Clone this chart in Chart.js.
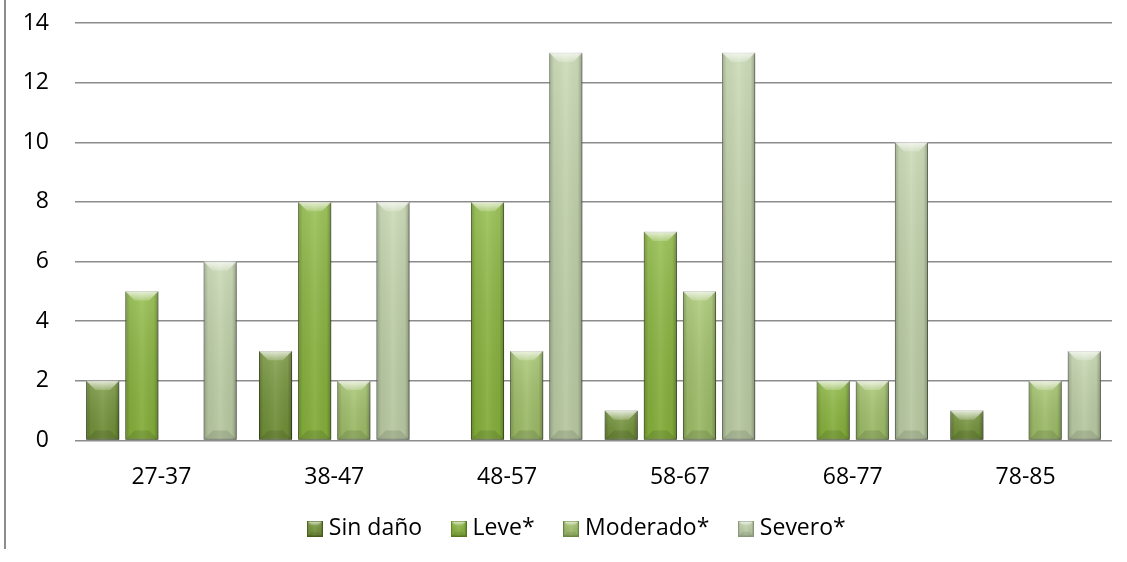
<!DOCTYPE html>
<html>
<head>
<meta charset="utf-8">
<script src="https://cdn.jsdelivr.net/npm/chart.js@4.4.1/dist/chart.umd.min.js"></script>
<style>
  html, body { margin: 0; padding: 0; background: #ffffff; }
  #wrap { width: 1127px; height: 562px; }
</style>
</head>
<body>
<div id="wrap"><canvas id="c" width="1127" height="562"></canvas></div>
<script>
// Age groups and number of cases per damage level
const categories = ['27-37', '38-47', '48-57', '58-67', '68-77', '78-85'];
const sinDano  = [2, 3, 0, 1, 0, 1];
const leve     = [5, 8, 8, 7, 2, 0];
const moderado = [0, 2, 3, 5, 2, 2];
const severo   = [6, 8, 13, 13, 10, 3];
const seriesNames = ['Sin daño', 'Leve*', 'Moderado*', 'Severo*'];
const yMin = 0, yMax = 14, yStep = 2;

// Palette: base fill and edge colour for each damage level
const fills   = ['#76973a', '#8cb93e', '#a5c66c', '#c4d6ac'];
const edges   = ['#465c1c', '#58781f', '#6a8740', '#87977a'];

const FONT = '"Open Sans", "Liberation Sans", sans-serif';

// Bevel overlay for a rectangle (used on bars and legend swatches)
function bevel(ctx, left, top, right, bottom) {
  const w = right - left, h = bottom - top;
  if (w <= 0 || h <= 0) return;
  const b = Math.min(w * 0.28, h / 2);
  ctx.save();
  // soft vertical shading: light at the top, a bit darker at the base
  let g = ctx.createLinearGradient(0, top, 0, bottom);
  g.addColorStop(0, 'rgba(255,255,255,0.16)');
  g.addColorStop(1, 'rgba(0,0,0,0.07)');
  ctx.fillStyle = g;
  ctx.fillRect(left, top, w, h);
  // rounded sides
  g = ctx.createLinearGradient(left, 0, right, 0);
  g.addColorStop(0, 'rgba(0,0,0,0.22)');
  g.addColorStop(0.14, 'rgba(0,0,0,0.04)');
  g.addColorStop(0.5, 'rgba(255,255,255,0.07)');
  g.addColorStop(0.86, 'rgba(0,0,0,0.04)');
  g.addColorStop(1, 'rgba(0,0,0,0.28)');
  ctx.fillStyle = g;
  ctx.fillRect(left, top, w, h);
  // top face highlight
  g = ctx.createLinearGradient(0, top, 0, top + b);
  g.addColorStop(0, 'rgba(255,255,255,0.75)');
  g.addColorStop(1, 'rgba(255,255,255,0.18)');
  ctx.fillStyle = g;
  ctx.beginPath();
  ctx.moveTo(left, top);
  ctx.lineTo(right, top);
  ctx.lineTo(right - b, top + b);
  ctx.lineTo(left + b, top + b);
  ctx.closePath();
  ctx.fill();
  // bottom face shade
  ctx.fillStyle = 'rgba(0,0,0,0.10)';
  ctx.beginPath();
  ctx.moveTo(left, bottom);
  ctx.lineTo(right, bottom);
  ctx.lineTo(right - b, bottom - b);
  ctx.lineTo(left + b, bottom - b);
  ctx.closePath();
  ctx.fill();
  ctx.restore();
}

// Legend swatches with the same bevel look
function swatch(i) {
  const s = 16;
  const cv = document.createElement('canvas');
  cv.width = s; cv.height = s;
  const c = cv.getContext('2d');
  c.fillStyle = fills[i];
  c.fillRect(0, 0, s, s);
  bevel(c, 0, 0, s, s);
  c.strokeStyle = edges[i];
  c.lineWidth = 1;
  c.strokeRect(0.5, 0.5, s - 1, s - 1);
  return cv;
}

const barBevel = {
  id: 'barBevel',
  beforeDatasetDraw(chart) {
    const ctx = chart.ctx;
    ctx.save();
    ctx.shadowColor = 'rgba(0,0,0,0.35)';
    ctx.shadowBlur = 4;
    ctx.shadowOffsetX = 1;
    ctx.shadowOffsetY = 1;
  },
  afterDatasetDraw(chart, args) {
    const ctx = chart.ctx;
    ctx.restore();
    const meta = args.meta;
    const ds = chart.data.datasets[args.index];
    meta.data.forEach((el, j) => {
      if (!ds.data[j]) return;
      const p = el.getProps(['x', 'y', 'base', 'width'], true);
      const l = p.x - p.width / 2, r = p.x + p.width / 2;
      const t = Math.min(p.y, p.base), btm = Math.max(p.y, p.base);
      bevel(ctx, l, t, r, btm);
    });
  }
};

// Frame line along the left edge of the figure
const frame = {
  id: 'frame',
  beforeDraw(chart) {
    const ctx = chart.ctx;
    ctx.save();
    ctx.fillStyle = '#ffffff';
    ctx.fillRect(0, 0, chart.width, chart.height);
    ctx.strokeStyle = '#8c8c8c';
    ctx.lineWidth = 2;
    ctx.beginPath();
    ctx.moveTo(5, 0);
    ctx.lineTo(5, 549);
    ctx.stroke();
    ctx.restore();
  }
};

// Centre the legend row under the plot area and set its baseline
const legendPlace = {
  id: 'legendPlace',
  afterLayout(chart) {
    const lg = chart.legend;
    if (!lg) return;
    lg.left += 23;
    lg.right += 23;
    lg.top -= 23;
    lg.bottom -= 23;
  }
};

const seriesData = [sinDano, leve, moderado, severo];
const datasets = seriesData.map((d, i) => ({
  label: seriesNames[i],
  data: d,
  backgroundColor: fills[i],
  borderColor: edges[i],
  borderWidth: (c) => (c.raw ? 1 : 0),
  borderSkipped: false,
  pointStyle: swatch(i),
  categoryPercentage: 0.906,
  barPercentage: 0.846
}));

new Chart(document.getElementById('c'), {
  type: 'bar',
  data: { labels: categories, datasets },
  options: {
    responsive: false,
    animation: false,
    layout: { padding: { left: 0, right: 15, top: 23, bottom: -11 } },
    scales: {
      x: {
        grid: { display: false },
        border: { display: false },
        ticks: { color: '#000000', padding: 15, font: { family: FONT, size: 23 } }
      },
      y: {
        min: yMin,
        max: yMax,
        grid: { color: '#8c8c8c', lineWidth: 1.5, drawTicks: false },
        border: { display: false },
        ticks: { stepSize: yStep, color: '#000000', padding: 26, font: { family: FONT, size: 23 } },
        afterFit(s) { s.width = 75; s.paddingTop = 0; s.paddingBottom = 0; }
      }
    },
    plugins: {
      legend: {
        position: 'bottom',
        labels: {
          usePointStyle: true,
          pointStyleWidth: 5,
          padding: 34,
          color: '#000000',
          font: { family: FONT, size: 23 }
        }
      },
      tooltip: { enabled: false }
    }
  },
  plugins: [frame, barBevel, legendPlace]
});
</script>
</body>
</html>
